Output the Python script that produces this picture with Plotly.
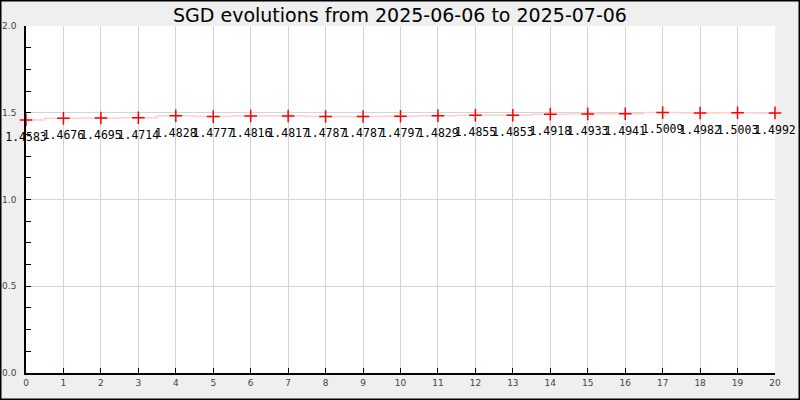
import plotly.graph_objects as go

days = list(range(21))
rates = [1.4583, 1.4676, 1.4695, 1.4714, 1.4828, 1.4777, 1.4816, 1.4817, 1.4787, 1.4787,
         1.4797, 1.4829, 1.4855, 1.4853, 1.4918, 1.4933, 1.4941, 1.5009, 1.4982, 1.5003, 1.4992]
labels = [f"{v:.4f}" for v in rates]
title = "SGD evolutions from 2025-06-06 to 2025-07-06"

L, R, T, B = 26, 25, 26, 27
W, H = 800, 400
pw, ph = W - L - R, H - T - B

fig = go.Figure()
fig.add_trace(go.Scatter(
    x=days, y=rates, mode="lines", line=dict(color="#ffd0d0", width=1.5, shape="hvh"),
    hoverinfo="skip", showlegend=False))
fig.add_trace(go.Scatter(
    x=days, y=rates, mode="markers+text", text=labels, textposition="bottom center",
    textfont=dict(family="DejaVu Sans Mono", size=11.5, color="black"),
    marker=dict(size=18, color="rgba(0,0,0,0)"),
    hoverinfo="skip", showlegend=False, cliponaxis=False))
fig.add_trace(go.Scatter(
    x=days, y=rates, mode="markers",
    marker=dict(symbol="cross-thin", size=9, line=dict(color="red", width=1.5), color="red"),
    showlegend=False, cliponaxis=False))

fig.update_layout(
    width=W, height=H,
    margin=dict(l=L, r=R, t=T, b=B, autoexpand=False),
    paper_bgcolor="#efefef", plot_bgcolor="white",
    title=dict(text=title, x=0.5, xanchor="center", y=1 - 15 / H, yanchor="middle",
               font=dict(family="DejaVu Sans", size=19, color="black")),
    font=dict(family="DejaVu Sans", size=9, color="#333"),
    shapes=[dict(type="rect", xref="paper", yref="paper",
                 x0=-(L - 0.75) / pw, x1=1 + (R - 0.75) / pw,
                 y0=-(B - 0.75) / ph, y1=1 + (T - 0.75) / ph,
                 line=dict(color="black", width=1.5), layer="above")],
)
fig.update_xaxes(range=[0, 20], dtick=1, tick0=0, showgrid=True, gridcolor="#d4d4d4",
                 ticks="inside", ticklen=5, tickcolor="black", showline=True,
                 linecolor="black", linewidth=1.5, zeroline=False, automargin=False,
                 tickfont=dict(size=9, color="#444"))
fig.update_yaxes(range=[0, 2], dtick=0.5, tick0=0, tickformat=".1f", showgrid=True,
                 gridcolor="#d4d4d4", ticks="inside", ticklen=5, tickcolor="black",
                 showline=True, linecolor="black", linewidth=1.5, zeroline=False,
                 ticklabelstandoff=6, automargin=False,
                 minor=dict(dtick=0.125, ticks="inside", ticklen=5, tickcolor="black", showgrid=False),
                 tickfont=dict(size=9, color="#444"))

fig.write_html("out.html", config={"displayModeBar": False},
               post_script="document.body.style.margin='0';document.body.style.overflow='hidden';")
